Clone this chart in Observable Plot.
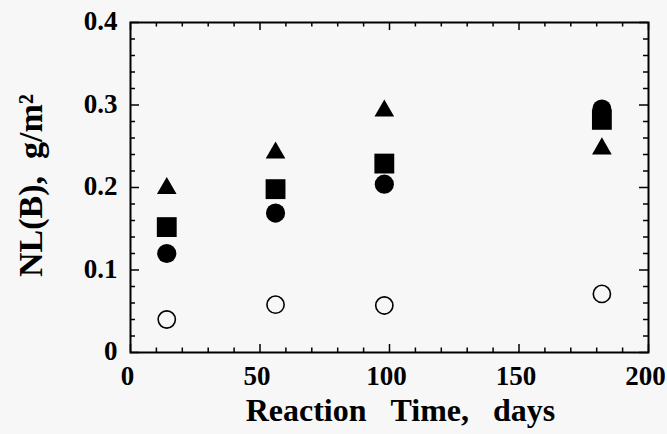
<!DOCTYPE html>
<html>
<head>
<meta charset="utf-8">
<script src="https://cdn.jsdelivr.net/npm/d3@7"></script>
<script src="https://cdn.jsdelivr.net/npm/@observablehq/plot@0.6"></script>
<style>
  html, body { margin: 0; padding: 0; background: #f7f7f7; }
</style>
</head>
<body>
<div id="chart"></div>
<script>
// Reaction time (days)
const days = [14, 56, 98, 182];
// NL(B), g/m^2 for each series
const triangleSeries = [0.199, 0.242, 0.293, 0.247];
const squareSeries = [0.152, 0.198, 0.229, 0.282];
const filledCircleSeries = [0.120, 0.169, 0.204, 0.295];
const openCircleSeries = [0.040, 0.058, 0.057, 0.071];

// Axis ticks
const xMajorTicks = [0, 50, 100, 150, 200];
const xMinorTicks = [10, 20, 30, 40, 60, 70, 80, 90, 110, 120, 130, 140, 160, 170, 180, 190];
const yMajorTicks = [0, 0.1, 0.2, 0.3, 0.4];
const yMinorTicks = [0.02, 0.04, 0.06, 0.08, 0.12, 0.14, 0.16, 0.18, 0.22, 0.24, 0.26, 0.28, 0.32, 0.34, 0.36, 0.38];
const yTickLabels = ["0", "0.1", "0.2", "0.3", "0.4"];

const xTitle = "Reaction\u00a0\u00a0\u00a0Time,\u00a0\u00a0\u00a0days";
const yTitle = "NL(B),\u00a0\u00a0g/m\u00b2";

const W = 667, H = 434;
const mL = 130, mR = 19, mT = 22, mB = 82;
const pw = W - mL - mR, ph = H - mT - mB;

const toRows = (vals) => days.map((d, i) => ({day: d, v: vals[i]}));

const chart = Plot.plot({
  width: W,
  height: H,
  marginLeft: mL,
  marginRight: mR,
  marginTop: mT,
  marginBottom: mB,
  style: {background: "#f7f7f7", fontFamily: "'Liberation Serif', 'Times New Roman', serif", fontSize: "26px", fontWeight: "bold", color: "black"},
  x: {domain: [0, 200], label: null, axis: null},
  y: {domain: [0, 0.4], label: null, axis: null},
  marks: [
    // tick marks (inward) on all four sides
    Plot.ruleX(xMajorTicks, {x: d => d, insetTop: ph - 8, strokeWidth: 1.5}),
    Plot.ruleX(xMajorTicks, {x: d => d, insetBottom: ph - 8, strokeWidth: 1.5}),
    Plot.ruleX(xMinorTicks, {x: d => d, insetTop: ph - 4.5, strokeWidth: 1.5}),
    Plot.ruleX(xMinorTicks, {x: d => d, insetBottom: ph - 4.5, strokeWidth: 1.5}),
    Plot.ruleY(yMajorTicks, {y: d => d, insetRight: pw - 9, strokeWidth: 1.5}),
    Plot.ruleY(yMajorTicks, {y: d => d, insetLeft: pw - 9, strokeWidth: 1.5}),
    Plot.ruleY(yMinorTicks, {y: d => d, insetRight: pw - 5, strokeWidth: 1.5}),
    Plot.ruleY(yMinorTicks, {y: d => d, insetLeft: pw - 5, strokeWidth: 1.5}),
    Plot.frame({stroke: "black", strokeWidth: 2}),
    // tick labels
    Plot.text(xMajorTicks, {x: d => d, text: d => String(d), frameAnchor: "bottom", lineAnchor: "top", dy: 13, dx: -3, fontSize: 27, fontWeight: "bold"}),
    Plot.text(yMajorTicks, {y: d => d, text: (d, i) => yTickLabels[i], frameAnchor: "left", textAnchor: "end", lineAnchor: "middle", dx: -13, dy: -1, fontSize: 27, fontWeight: "bold"}),
    // data
    Plot.dot(toRows(openCircleSeries), {x: "day", y: "v", symbol: "circle", r: 8.6, fill: "none", stroke: "black", strokeWidth: 1.6}),
    Plot.dot(toRows(filledCircleSeries), {x: "day", y: "v", symbol: "circle", r: 9.6, fill: "black", stroke: "none"}),
    Plot.dot(toRows(squareSeries), {x: "day", y: "v", symbol: "square", r: 11.2, fill: "black", stroke: "none"}),
    Plot.dot(toRows(triangleSeries), {x: "day", y: "v", symbol: "triangle", r: 7.3, fill: "black", stroke: "none"}),
    // axis titles
    Plot.text([xTitle], {frameAnchor: "bottom", dy: 58, dx: 11, text: d => d, fontSize: 32, fontWeight: "bold", lineAnchor: "middle", textAnchor: "middle"}),
    Plot.text([yTitle], {frameAnchor: "left", dx: -99, dy: -2, rotate: -90, text: d => d, fontSize: 34, fontWeight: "bold", lineAnchor: "middle", textAnchor: "middle"})
  ]
});
document.getElementById("chart").appendChild(chart);
</script>
</body>
</html>
